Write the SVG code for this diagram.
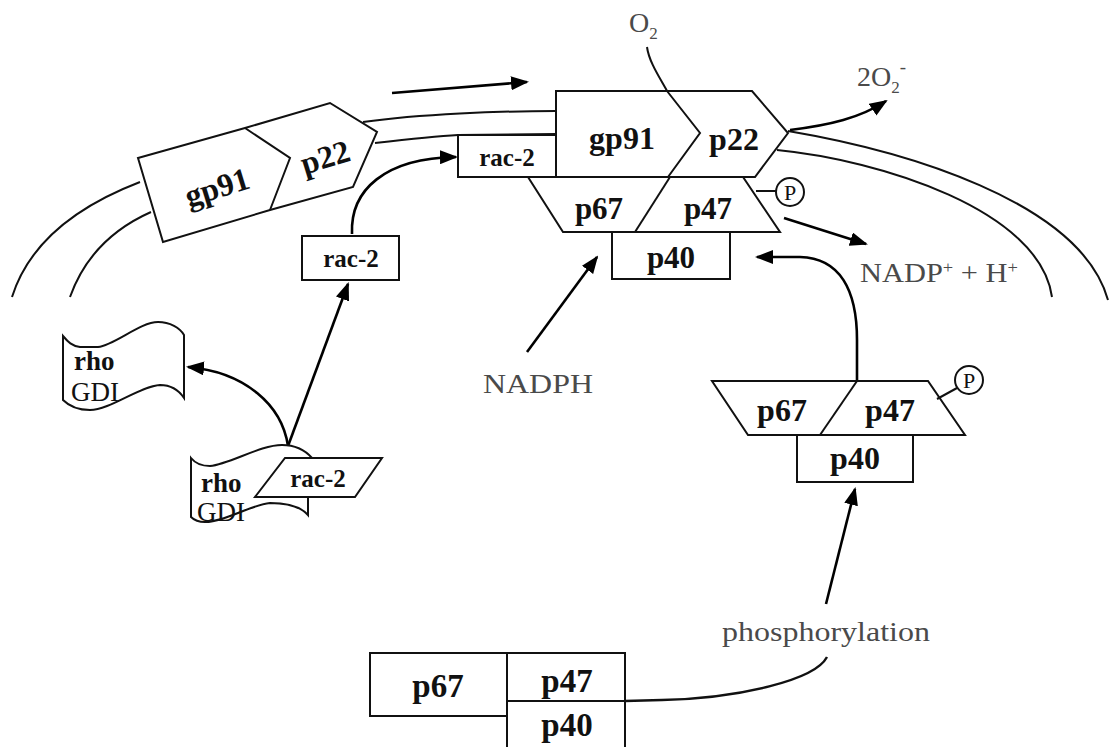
<svg xmlns="http://www.w3.org/2000/svg" width="1109" height="747" viewBox="0 0 1109 747">
<style>
.shape{fill:#fff;stroke:#111;stroke-width:2;stroke-linejoin:miter}
.ln{fill:none;stroke:#111;stroke-width:2}
.mem{fill:none;stroke:#111;stroke-width:2}
.conn{fill:none;stroke:#000;stroke-width:2.6;marker-end:url(#ah)}
.lbl{font-family:"Liberation Serif","Times New Roman",serif;font-weight:bold;font-size:31px;fill:#111;text-anchor:middle}
.sm{font-size:25px}
.rg{font-family:"Liberation Serif","Times New Roman",serif;font-size:27px;fill:#111}
.grey{font-family:"Liberation Serif","Times New Roman",serif;font-size:28px;fill:#4a4a4a}
.pc{font-family:"Liberation Serif","Times New Roman",serif;font-size:22px;fill:#111;text-anchor:middle}
</style>
<defs>
<marker id="ah" viewBox="0 0 18 14" refX="16" refY="7" markerWidth="18" markerHeight="14" markerUnits="userSpaceOnUse" orient="auto">
<path d="M0,0 L18,7 L0,14 Z" fill="#000"/>
</marker>
</defs>
<rect width="1109" height="747" fill="#fff"/>

<g id="membrane">
<path class="mem" d="M12,297 C30,240 80,205 140,182"/>
<path class="mem" d="M70,297 C85,255 115,228 151,212"/>
<path class="mem" d="M363,122 C420,114 500,111 556,111"/>
<path class="mem" d="M375,143 C410,139 440,136 458,135 L556,134"/>
<path class="mem" d="M788,131 C900,150 1080,200 1108,300"/>
<path class="mem" d="M777,150 C880,160 1040,210 1052,297"/>
</g>

<g id="connectors">
<path class="conn" d="M392,93 L527,82"/>
<path class="ln" d="M647,47 C649,62 660,78 667,91"/>
<path class="conn" d="M790,130 C830,125 860,118 886,101"/>
<path class="conn" d="M784,218 L866,244"/>
<path class="conn" d="M527,352 L597,257"/>
<path class="conn" d="M857,381 L857,340 C857,290 840,258 800,257 L757,257"/>
<path class="conn" d="M826,604 L855,489"/>
<path class="ln" style="stroke-width:2.4" d="M625,701 L662,700 C740,698 815,680 827,657"/>
<path class="conn" d="M352,234 C350,190 385,158 456,157"/>
<path class="conn" d="M288,446 L348,284"/>
<path class="conn" d="M288,446 C282,405 245,372 188,367"/>
</g>

<g id="gp91-p22-resting">
<path class="shape" d="M138,158 L245,128 L330,103 L377,132 L353,187 L270,210 L163,242 Z"/>
<path class="ln" d="M245,128 L290,158 L270,210"/>
<text class="lbl" style="font-size:32px" transform="rotate(-17 217 187)" x="217" y="198">gp91</text>
<text class="lbl" style="font-size:32px" transform="rotate(-17 325 157)" x="325" y="168">p22</text>
</g>

<g id="rac2-small">
<rect class="shape" x="302" y="236" width="97" height="44"/>
<text class="lbl sm" x="351" y="267">rac-2</text>
</g>

<g id="rhoGDI-free">
<path class="shape" d="M63,336 C68,342 72,346 80,347 L98,347 C115,345 140,322 158,322 C170,322 180,328 184,335 L184,398 C178,389 170,385 160,385 C140,386 110,410 90,410 C75,410 68,405 63,400 Z"/>
<text class="lbl" style="text-anchor:start;font-size:27px" x="74" y="370">rho</text>
<text class="rg" x="71" y="401">GDI</text>
</g>

<g id="rhoGDI-rac2">
<path class="shape" d="M191,458 C195,463 200,466 210,466 C230,464 260,445 282,445 C295,445 305,450 312,458 L308,458 L308,515 C300,506 285,503 270,503 C250,505 225,522 205,522 C198,522 194,520 191,517 Z"/>
<text class="lbl" style="text-anchor:start;font-size:27px" x="201" y="492">rho</text>
<text class="rg" x="197" y="521">GDI</text>
<path class="shape" d="M285,458 L382,458 L355,497 L255,497 Z"/>
<text class="lbl sm" x="318" y="487">rac-2</text>
</g>

<g id="oxidase-active">
<rect class="shape" x="458" y="135" width="98" height="42"/>
<text class="lbl sm" x="507" y="166">rac-2</text>
<path class="shape" d="M528,177 L743,177 L780,232 L563,232 Z"/>
<path class="ln" d="M670,177 L635,232"/>
<text class="lbl" x="599" y="219">p67</text>
<text class="lbl" x="708" y="219">p47</text>
<path class="shape" d="M556,91 L752,91 L788,133 L755,177 L556,177 Z"/>
<path class="ln" d="M667,91 L700,133 L668,177"/>
<text class="lbl" style="font-size:32px" x="622" y="149">gp91</text>
<text class="lbl" style="font-size:32px" x="734" y="150">p22</text>
<rect class="shape" x="612" y="232" width="118" height="47"/>
<text class="lbl" x="671" y="268">p40</text>
<path class="ln" d="M756,191 L776,191"/>
<circle class="shape" cx="790" cy="192" r="14"/>
<text class="pc" x="790" y="200">P</text>
</g>

<g id="cytosol-phospho">
<path class="shape" d="M712,381 L928,381 L965,435 L748,435 Z"/>
<path class="ln" d="M857,381 L820,435"/>
<text class="lbl" style="font-size:32px" x="782" y="421">p67</text>
<text class="lbl" style="font-size:32px" x="890" y="421">p47</text>
<rect class="shape" x="797" y="435" width="116" height="47"/>
<text class="lbl" style="font-size:32px" x="855" y="469">p40</text>
<path class="ln" d="M937,399 L957,388"/>
<circle class="shape" cx="969" cy="380" r="14"/>
<text class="pc" x="969" y="388">P</text>
</g>

<g id="cytosol-resting">
<rect class="shape" x="370" y="653" width="137" height="63"/>
<text class="lbl" style="font-size:33px" x="438" y="697">p67</text>
<rect class="shape" x="507" y="653" width="118" height="48"/>
<text class="lbl" style="font-size:33px" x="567" y="692">p47</text>
<rect class="shape" x="507" y="701" width="118" height="50"/>
<text class="lbl" style="font-size:33px" x="567" y="736">p40</text>
</g>

<g id="labels">
<text class="grey" x="629" y="32" font-size="29">O<tspan font-size="17" dy="7">2</tspan></text>
<text class="grey" x="857" y="86" font-size="29">2O<tspan font-size="17" dy="7">2</tspan><tspan font-size="19" dy="-20">-</tspan></text>
<text class="grey" x="860" y="282" textLength="158" lengthAdjust="spacingAndGlyphs">NADP<tspan font-size="17" dy="-9">+</tspan><tspan dy="9"> + H</tspan><tspan font-size="17" dy="-9">+</tspan></text>
<text class="grey" x="483" y="393" textLength="110" lengthAdjust="spacingAndGlyphs">NADPH</text>
<text class="grey" x="722" y="641" font-size="29" textLength="208" lengthAdjust="spacingAndGlyphs">phosphorylation</text>
</g>
</svg>
